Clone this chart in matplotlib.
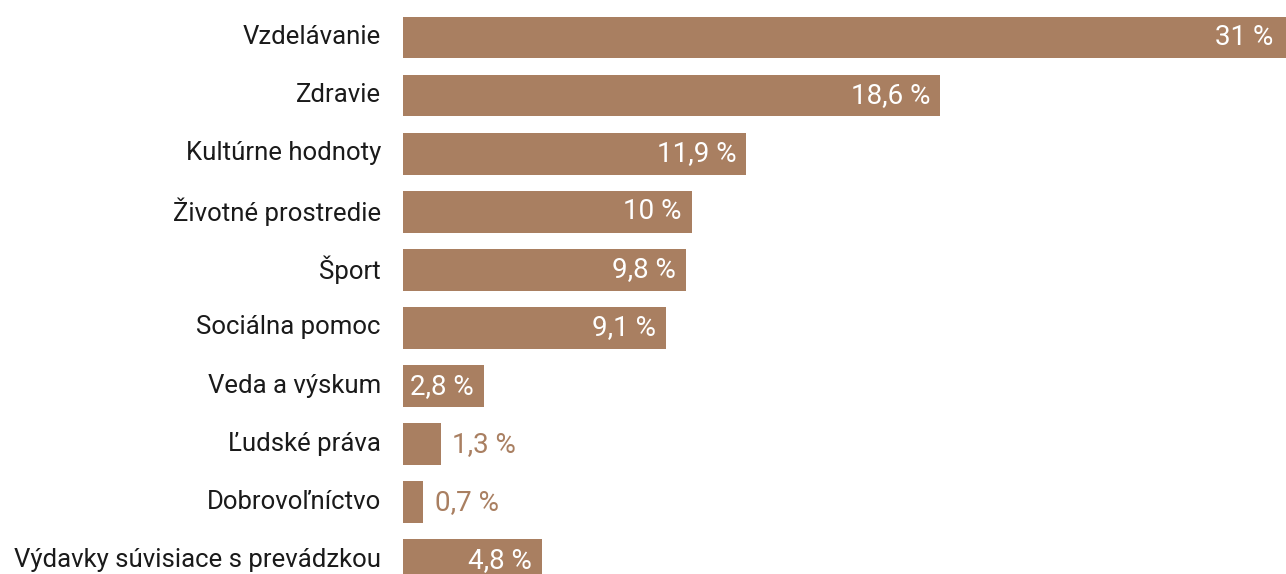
import matplotlib.pyplot as plt
import matplotlib.transforms as mtransforms

categories = ["Vzdelávanie", "Zdravie", "Kultúrne hodnoty", "Životné prostredie",
              "Šport", "Sociálna pomoc", "Veda a výskum", "Ľudské práva",
              "Dobrovoľníctvo", "Výdavky súvisiace s prevádzkou"]
values = [31, 18.6, 11.9, 10, 9.8, 9.1, 2.8, 1.3, 0.7, 4.8]
value_labels = ["31 %", "18,6 %", "11,9 %", "10 %", "9,8 %", "9,1 %",
                "2,8 %", "1,3 %", "0,7 %", "4,8 %"]

bar_color = "#a97f61"
plt.rcParams['font.family'] = ['Roboto', 'DejaVu Sans']

fig = plt.figure(figsize=(12.86, 5.74), dpi=100)
ax = fig.add_axes([403 / 1286, 0, 1 - 403 / 1286, 1])

pos = list(range(len(categories)))
ax.barh(pos, values, height=0.72, color=bar_color)

xmax = 30.6
ax.set_xlim(0, xmax)
ax.set_ylim(9.234, -0.645)

ax.set_yticks(pos)
ax.set_yticklabels(categories, fontsize=18.5, color="#1a1a1a")
ax.tick_params(axis='y', length=0, pad=16)
ax.set_xticks([])
for s in ax.spines.values():
    s.set_visible(False)

# nudge the category labels up a little
shift = mtransforms.ScaledTranslation(0, 3 / 100, fig.dpi_scale_trans)
for t in ax.get_yticklabels():
    t.set_transform(t.get_transform() + shift)

# labels: inside the bar (white) or next to it for tiny bars
for i, (v, lab) in enumerate(zip(values, value_labels)):
    if v >= 2:
        ax.annotate(lab, (min(v, xmax - 0.1), i), xytext=(-7, 0),
                    textcoords='offset points', ha='right', va='center',
                    fontsize=20, color='white')
    else:
        ax.annotate(lab, (v, i), xytext=(8.5, 0),
                    textcoords='offset points', ha='left', va='center',
                    fontsize=20, color=bar_color)

fig.savefig("out.png", dpi=100)
